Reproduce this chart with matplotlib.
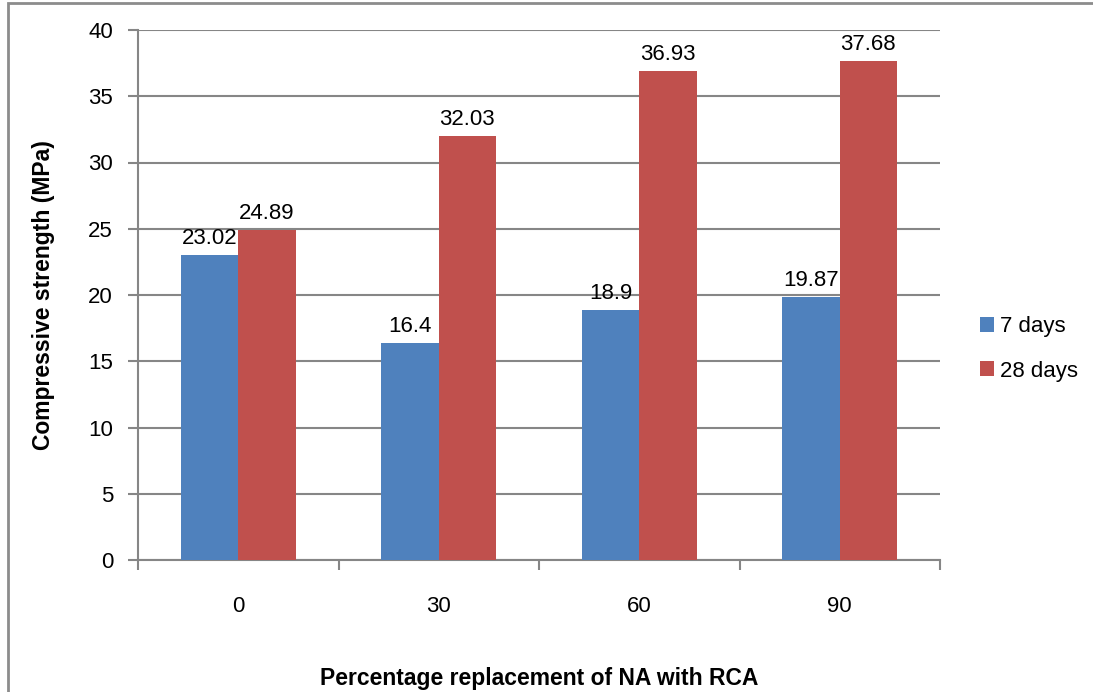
import matplotlib.pyplot as plt
import numpy as np
from matplotlib.patches import Rectangle

categories = ["0", "30", "60", "90"]
series_names = ["7 days", "28 days"]
days7 = [23.02, 16.4, 18.9, 19.87]
days28 = [24.89, 32.03, 36.93, 37.68]
label7 = ["23.02", "16.4", "18.9", "19.87"]
label28 = ["24.89", "32.03", "36.93", "37.68"]
yticks = [0, 5, 10, 15, 20, 25, 30, 35, 40]

FONT = ["Liberation Sans", "DejaVu Sans"]
plt.rcParams["font.family"] = FONT

blue = "#4F81BD"
red = "#C0504D"
gray = "#868686"
FS = 16

fig = plt.figure(figsize=(10.93, 6.92), dpi=100)
ax = fig.add_axes([138 / 1093, 1 - 560 / 692, (940 - 138) / 1093, (560 - 30) / 692])

# outer chart border
fig.add_artist(Rectangle((8 / 1093, -0.1), 1.2, 1 - 3 / 692 + 0.1, transform=fig.transFigure,
                         fill=False, edgecolor="#8c8c8c", linewidth=2))

x = np.arange(len(categories))
w = 1 / 3.5
b1 = ax.bar(x - w / 2, days7, w, color=blue, label=series_names[0], zorder=3)
b2 = ax.bar(x + w / 2, days28, w, color=red, label=series_names[1], zorder=3)

for rect, txt in zip(b1, label7):
    ax.text(rect.get_x() + rect.get_width() / 2, rect.get_height() + 0.45, txt,
            ha="center", va="bottom", fontsize=FS)
for rect, txt in zip(b2, label28):
    ax.text(rect.get_x() + rect.get_width() / 2, rect.get_height() + 0.45, txt,
            ha="center", va="bottom", fontsize=FS)

ax.set_xlim(-0.5, 3.5)
ax.set_ylim(0, 40)
ax.set_yticks(yticks)
ax.set_yticklabels([str(t) for t in yticks], fontsize=FS)
ax.yaxis.grid(True, color=gray, linewidth=1.5, zorder=0)
ax.set_axisbelow(True)

ax.set_xticks(x)
ax.set_xticklabels(categories, fontsize=FS)
ax.set_xticks(np.arange(-0.5, 4.0, 1.0), minor=True)
ax.tick_params(axis="x", which="major", length=0, pad=26)
ax.tick_params(axis="x", which="minor", length=7, width=1.5, color=gray, direction="out")
ax.tick_params(axis="y", length=7, width=1.5, color=gray, direction="out", pad=11)

for side in ["top", "right"]:
    ax.spines[side].set_visible(False)
for side in ["left", "bottom"]:
    ax.spines[side].set_color(gray)
    ax.spines[side].set_linewidth(1.5)

ax.set_ylabel("Compressive strength (MPa)", fontsize=16.5, fontweight="bold", labelpad=24)
ax.set_xlabel("Percentage replacement of NA with RCA", fontsize=16.5, fontweight="bold", labelpad=36)

leg = fig.legend(handles=[b1, b2], labels=series_names, loc="center left",
                 bbox_to_anchor=(960 / 1093, 1 - 349 / 692), frameon=False, fontsize=FS,
                 handlelength=0.65, handleheight=0.65, handletextpad=0.25, labelspacing=1.05)

fig.savefig("out.png", dpi=100)
